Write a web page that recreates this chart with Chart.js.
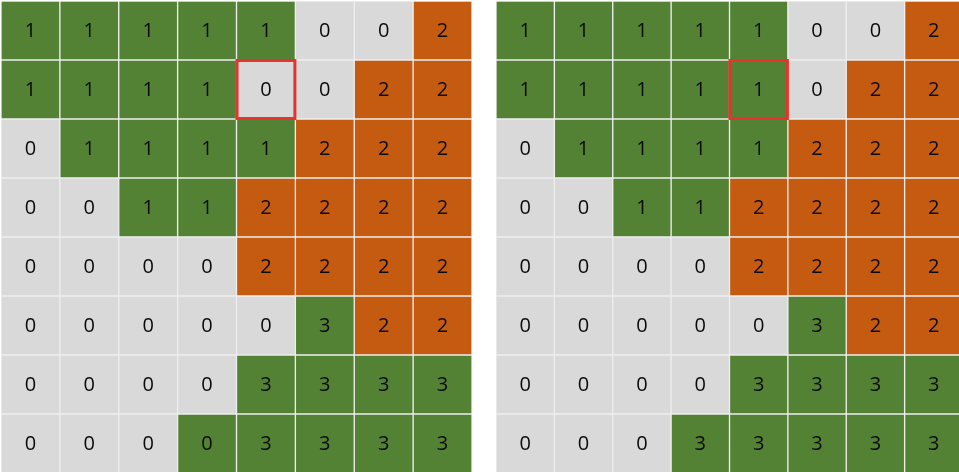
<!DOCTYPE html>
<html>
<head>
<meta charset="utf-8">
<script src="https://cdn.jsdelivr.net/npm/chart.js@4/dist/chart.umd.min.js"></script>
<style>
html,body{margin:0;padding:0;background:#fff;overflow:hidden;width:959px;height:472px;}
#left{position:absolute;left:1px;top:1px;}
#right{position:absolute;left:496px;top:1px;}
</style>
</head>
<body>
<canvas id="left" width="471" height="472"></canvas>
<canvas id="right" width="467" height="472"></canvas>
<script>
// Column categories (8 columns per grid)
const columns = ['c0','c1','c2','c3','c4','c5','c6','c7'];

// Cell labels, rows listed top to bottom
const leftValues = [
  [1,1,1,1,1,0,0,2],
  [1,1,1,1,0,0,2,2],
  [0,1,1,1,1,2,2,2],
  [0,0,1,1,2,2,2,2],
  [0,0,0,0,2,2,2,2],
  [0,0,0,0,0,3,2,2],
  [0,0,0,0,3,3,3,3],
  [0,0,0,0,3,3,3,3]
];
const rightValues = [
  [1,1,1,1,1,0,0,2],
  [1,1,1,1,1,0,2,2],
  [0,1,1,1,1,2,2,2],
  [0,0,1,1,2,2,2,2],
  [0,0,0,0,2,2,2,2],
  [0,0,0,0,0,3,2,2],
  [0,0,0,0,3,3,3,3],
  [0,0,0,3,3,3,3,3]
];
// Cell fill classes (G = green, O = orange, X = grey)
const leftFill = [
  'GGGGGXXO',
  'GGGGXXOO',
  'XGGGGOOO',
  'XXGGOOOO',
  'XXXXOOOO',
  'XXXXXGOO',
  'XXXXGGGG',
  'XXXGGGGG'
];
const rightFill = [
  'GGGGGXXO',
  'GGGGGXOO',
  'XGGGGOOO',
  'XXGGOOOO',
  'XXXXOOOO',
  'XXXXXGOO',
  'XXXXGGGG',
  'XXXGGGGG'
];
// Highlighted cell [row, col]
const highlightCell = [1, 4];

const fillColors = { G: '#548235', O: '#C55A11', X: '#D9D9D9' };

function buildChart(canvasId, values, fills) {
  const nRows = values.length;
  const datasets = [];
  // dataset 0 = bottom row
  for (let k = 0; k < nRows; k++) {
    const r = nRows - 1 - k;
    datasets.push({
      label: 'row' + r,
      rowIndex: r,
      data: columns.map(() => 1),
      labelsText: values[r].map(String),
      backgroundColor: fills[r].split('').map(ch => fillColors[ch]),
      borderColor: '#EEEEEE',
      borderWidth: 1,
      borderSkipped: false,
      barPercentage: 1,
      categoryPercentage: 1
    });
  }
  const labelPlugin = {
    id: 'cellLabels',
    afterDatasetsDraw(chart) {
      const ctx = chart.ctx;
      ctx.save();
      ctx.font = '20px "Open Sans", Lato, sans-serif';
      ctx.fillStyle = '#0a0a0a';
      ctx.textAlign = 'center';
      ctx.textBaseline = 'middle';
      let hl = null;
      chart.data.datasets.forEach((ds, di) => {
        const meta = chart.getDatasetMeta(di);
        meta.data.forEach((bar, i) => {
          const top = Math.min(bar.y, bar.base), bot = Math.max(bar.y, bar.base);
          ctx.fillText(ds.labelsText[i], bar.x, (top + bot) / 2 + 1);
          if (ds.rowIndex === highlightCell[0] && i === highlightCell[1]) {
            hl = { x: bar.x - bar.width / 2, y: top, w: bar.width, h: bot - top };
          }
        });
      });
      if (hl) {
        ctx.strokeStyle = '#E8322B';
        ctx.lineWidth = 3;
        ctx.strokeRect(hl.x + 0.5, hl.y + 0.5, hl.w - 1, hl.h - 1);
      }
      ctx.restore();
    }
  };
  return new Chart(document.getElementById(canvasId), {
    type: 'bar',
    data: { labels: columns, datasets },
    options: {
      responsive: false,
      animation: false,
      layout: { padding: 0 },
      plugins: { legend: { display: false }, tooltip: { enabled: false } },
      scales: {
        x: { stacked: true, display: false, offset: true },
        y: { stacked: true, display: false, min: 0, max: nRows }
      }
    },
    plugins: [labelPlugin]
  });
}

buildChart('left', leftValues, leftFill);
buildChart('right', rightValues, rightFill);
</script>
</body>
</html>
